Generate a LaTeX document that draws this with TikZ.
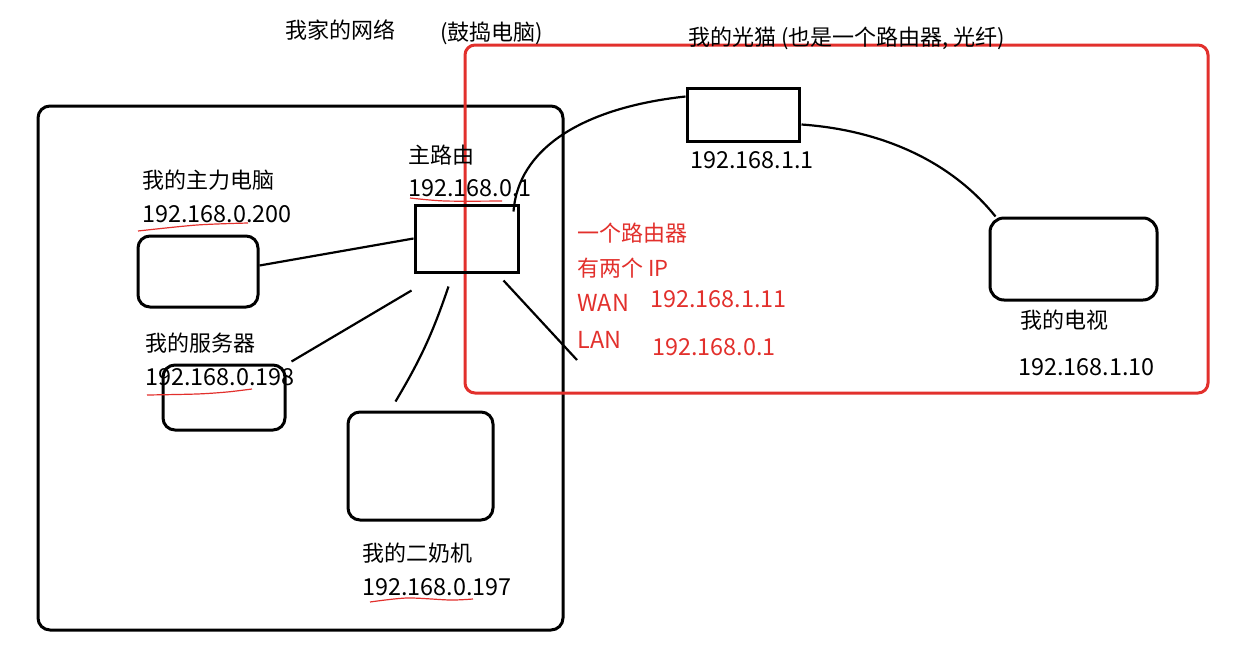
\documentclass[tikz,border=0pt]{standalone}
\usepackage{fontspec}
\setmainfont{Noto Sans CJK SC}
\usepackage{xcolor}
\usetikzlibrary{positioning,calc}
\definecolor{penred}{RGB}{226,48,44}

\begin{document}
\begin{tikzpicture}[
  x=0.5pt, y=-0.5pt,
  dev/.style={draw, line width=1.5pt, rounded corners=6pt, inner sep=0pt},
  hub/.style={draw, line width=1.5pt, inner sep=0pt},
  lbl/.style={font=\fontsize{11}{13}\selectfont, inner sep=0pt, anchor=west},
  ip/.style={lbl, font=\fontsize{11.7}{13}\selectfont},
  note/.style={lbl, text=penred},
  noteip/.style={ip, text=penred},
  wire/.style={line width=1.1pt},
  uline/.style={penred, line width=0.6pt}
]
\useasboundingbox (0,0) rectangle (1234,653);

% frames
\draw[line width=1.5pt, rounded corners=6pt] (38,106) rectangle (563,630);
\draw[penred, line width=1.5pt, rounded corners=5pt] (465,45) rectangle (1208,393);

% devices
\node[dev, minimum width=60pt, minimum height=35.5pt] (pc) at (198,271.5) {};
\node[hub, minimum width=51.5pt, minimum height=33.5pt] (router) at (466.5,238.5) {};
\node[hub, minimum width=56pt, minimum height=26.5pt] (modem) at (743,114.5) {};
\node[dev, minimum width=61pt, minimum height=32.5pt] (server) at (224,397.5) {};
\node[dev, minimum width=72.5pt, minimum height=54pt] (spare) at (420.5,466) {};
\node[dev, minimum width=83.5pt, minimum height=41pt, rounded corners=7pt] (tv) at (1073.5,259) {};

% labels
\node[lbl] (title) at (285,30) {我家的网络};
\node[lbl] (sub) at (440,33) {(鼓捣电脑)};
\node[lbl] (modemname) at (688,38) {我的光猫 (也是一个路由器, 光纤)};
\node[ip] (modemip) at (690,160) {192.168.1.1};
\node[lbl] (routername) at (408,155) {主路由};
\node[ip] (routerip) at (408,188) {192.168.0.1};
\node[lbl] (pcname) at (142,180) {我的主力电脑};
\node[ip] (pcip) at (142,214) {192.168.0.200};
\node[lbl] (servername) at (145,343) {我的服务器};
\node[ip] (serverip) at (145,377) {192.168.0.198};
\node[lbl] (sparename) at (362,553) {我的二奶机};
\node[ip] (spareip) at (362,587) {192.168.0.197};
\node[lbl] (tvname) at (1020,320) {我的电视};
\node[ip] (tvip) at (1018,367) {192.168.1.10};

% notes on the router
\node[note] (n1) at (577,233) {一个路由器};
\node[note] (n2) at (577,268) {有两个 IP};
\node[noteip] (wan) at (577,303) {WAN};
\node[noteip] (wanip) at (650,299) {192.168.1.11};
\node[noteip] (lan) at (577,340) {LAN};
\node[noteip] (lanip) at (652,347) {192.168.0.1};

% red underlines
\draw[uline] plot[smooth] coordinates {(410,198) (445,201) (502,201)};
\draw[uline] plot[smooth] coordinates {(138,231) (197,225) (248,223)};
\draw[uline] plot[smooth] coordinates {(147,395) (197,394) (227,392) (252,389)};
\draw[uline] plot[smooth] coordinates {(370,602) (407,598) (450,600) (473,599)};

% free ends
\coordinate (srvend) at ($(router.south west)+(-2,17)$);
\coordinate (spareend) at ($(router.south)+(-18,13)$);
\coordinate (outstart) at ($(router.south east)+(-16,7)$);
\coordinate (outend) at (577,360);

% wires
\draw[wire] ($(pc.east)+(0,-6)$) -- (router.west);
\draw[wire] ($(server.north east)+(5,-2)$) -- (srvend);
\draw[wire] ($(spare.north)+(-25,-9)$) to[bend right=6] (spareend);
\draw[wire] (outstart) -- (outend);
\draw[wire] ($(router.north east)+(-6,8)$) .. controls (518,150) and (580,108) .. ($(modem.north west)+(0,10)$);
\draw[wire] ($(modem.east)+(1,10)$) .. controls (880,130) and (950,160) .. ($(tv.north west)+(7,0)$);
\end{tikzpicture}
\end{document}
